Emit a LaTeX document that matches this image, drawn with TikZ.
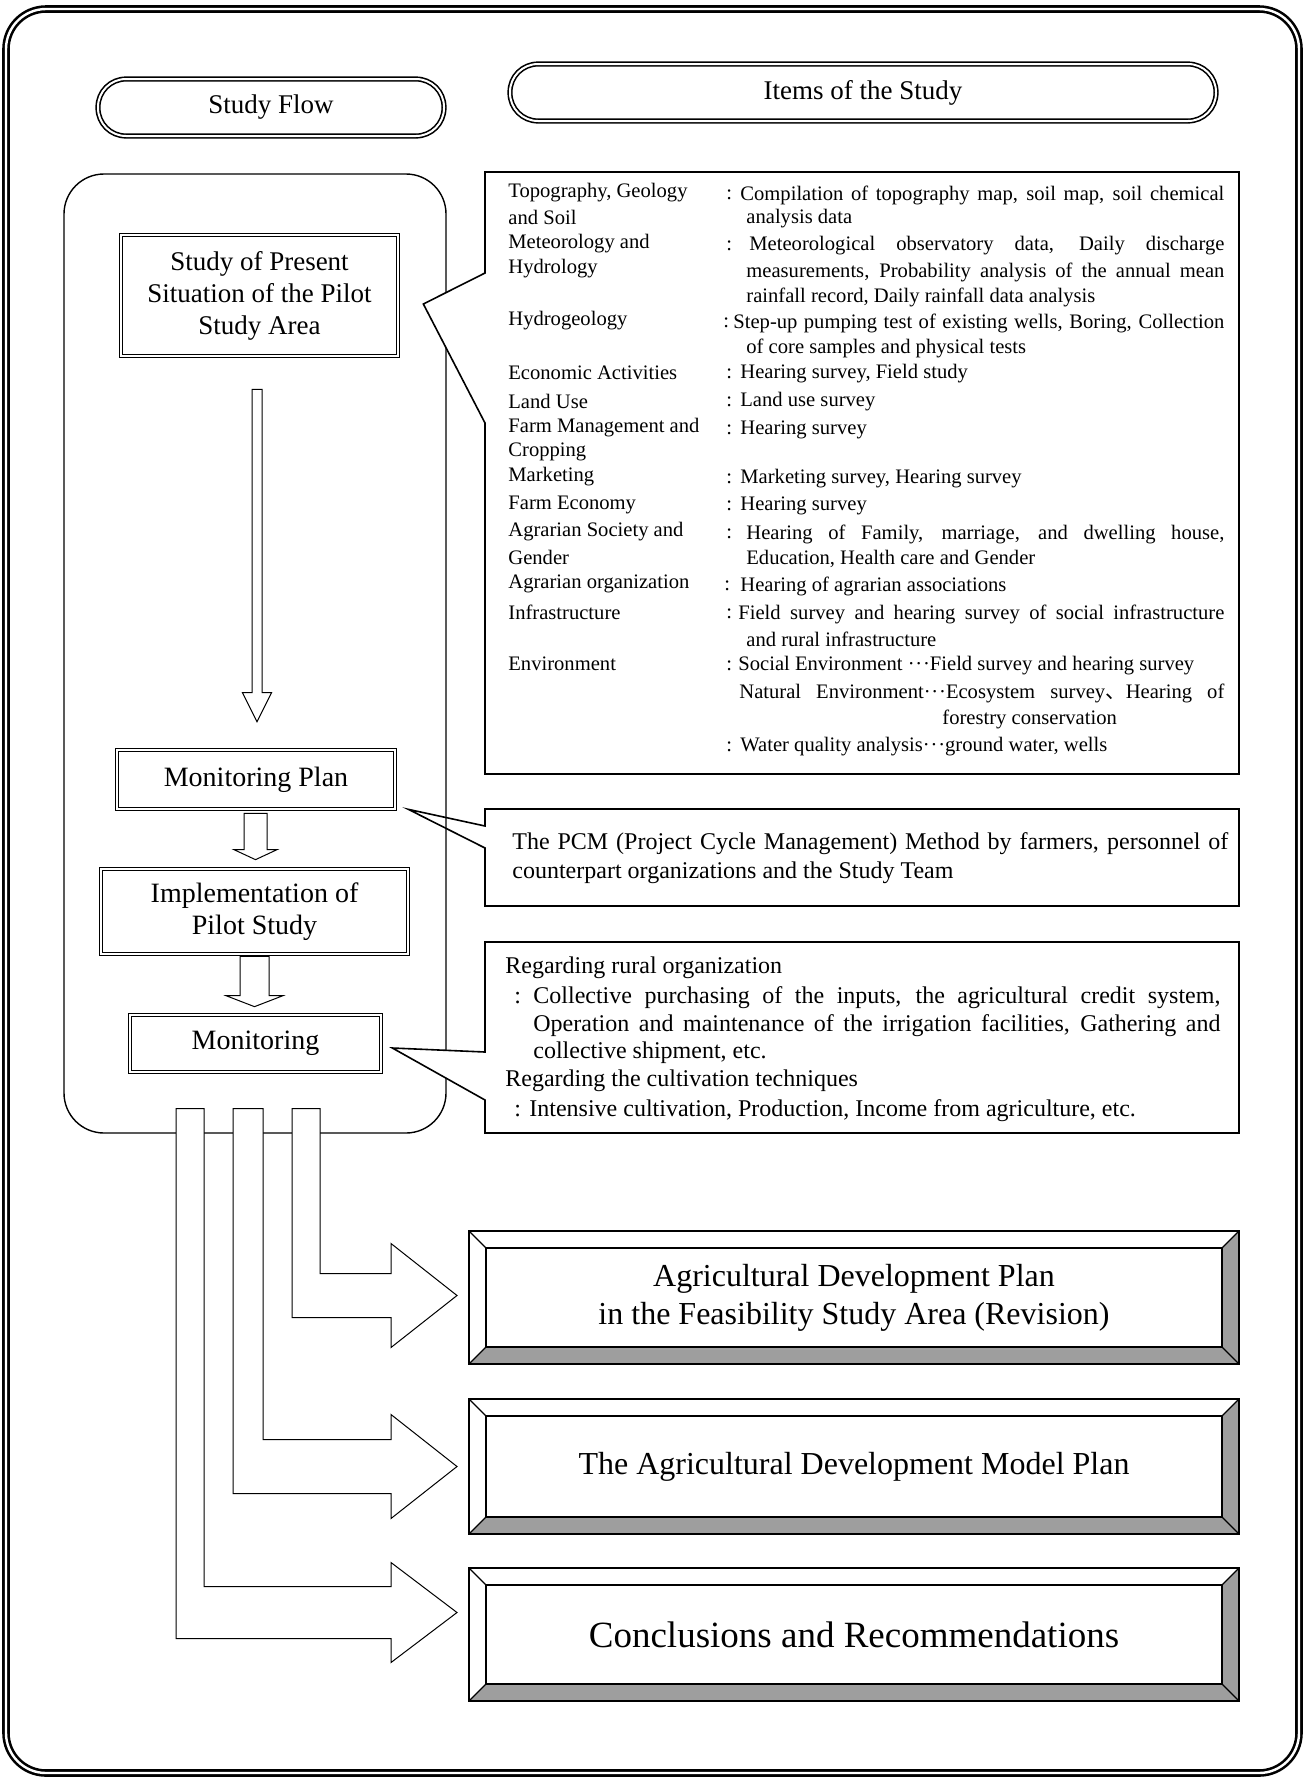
\documentclass[tikz,border=0pt]{standalone}
\usepackage{fontspec}
\setmainfont{Liberation Serif}
\newfontfamily\cjk{Noto Sans CJK JP}
\usetikzlibrary{calc}

\newcommand{\dotsj}{\textperiodcentered\kern0.4pt\textperiodcentered\kern0.4pt\textperiodcentered}
\newcommand{\jcomma}{{\cjk 、}}

\tikzset{
  frameline/.style={draw, double, line width=1.3pt, double distance=1.2pt, rounded corners=20pt},
  headoval/.style={draw, double, line width=0.8pt, double distance=1pt, rounded corners=14pt, minimum height=28.5pt, font=\fontsize{13.5}{16}\selectfont},
  flowbox/.style={draw, double, line width=0.35pt, double distance=1.3pt, align=center, inner sep=0pt},
  hollow/.style={draw, fill=white, line width=0.5pt},
  calloutline/.style={line width=0.8pt, line join=miter},
  holder/.style={inner sep=0pt, outer sep=0pt},
  itemtext/.style={anchor=west, inner sep=0pt, font=\fontsize{10.3}{12}\selectfont},
  notetext/.style={anchor=west, inner sep=0pt, font=\fontsize{12}{14.5}\selectfont},
  bevelshade/.style={fill=black!38},
  plantext/.style={holder, align=center, minimum width=385pt},
}

% hollow block arrow pointing down: start, tip, shaft half, head half, head length
\newcommand{\hollowdown}[5]{%
  \draw[hollow] let \p1=(#1), \p2=(#2) in
    (\x2-#3,\y1) -- (\x2-#3,\y2+#5) -- (\x2-#4,\y2+#5) -- (\p2) --
    (\x2+#4,\y2+#5) -- (\x2+#3,\y2+#5) -- (\x2+#3,\y1) -- cycle;}

% hollow elbow arrow from the flow area: left x, right x (px), tip, shaft half, head half
\newcommand{\elbowarrow}[5]{%
  \draw[hollow] let \p1=(#3), \p2=(flowarea.south) in
    (#1*0.5pt,\y2+12.5pt) -- (#2*0.5pt,\y2+12.5pt) -- (#2*0.5pt,\y1+#4) --
    (\x1-33pt,\y1+#4) -- (\x1-33pt,\y1+#5) -- (\p1) -- (\x1-33pt,\y1-#5) --
    (\x1-33pt,\y1-#4) -- (#1*0.5pt,\y1-#4) -- cycle;}

% raised frame with shaded lower and right bevels
\newcommand{\bevelframe}[1]{%
  \fill[bevelshade] (#1.south west) -- (#1.south east) -- (#1.north east) --
    ($(#1.north east)+(-17,17)$) -- ($(#1.south east)+(-17,-17)$) --
    ($(#1.south west)+(17,-17)$) -- cycle;
  \draw[line width=0.6pt] ($(#1.south west)+(17,-17)$) rectangle ($(#1.north east)+(-17,17)$);
  \foreach \corner/\dx/\dy in {south west/17/-17, south east/-17/-17, north east/-17/17, north west/17/17}
    \draw[line width=0.6pt] (#1.\corner) -- ++(\dx,\dy);
  \draw[line width=1pt] (#1.south west) rectangle (#1.north east);}

\begin{document}
\begin{tikzpicture}[x=0.5pt, y=-0.5pt]
	\useasboundingbox (0,0) rectangle (1305,1779);
	\draw[frameline] (6,9) rectangle (1299,1773);

	% headings
	\node[headoval, minimum width=173pt] (flowhead) at (271,107.5) {Study Flow};
	\node[headoval, minimum width=353pt] (itemshead) at (863,92.5) {Items of the Study};

	% study flow area
	\node[draw, line width=0.7pt, rounded corners=20pt, minimum width=191pt, minimum height=479.5pt] (flowarea) at (255,653.5) {};

	% results
	\node[plantext, minimum height=66.5pt, font=\fontsize{16}{19}\selectfont] (planA) at (854,1297.5) {Agricultural Development Plan\\in the Feasibility Study Area (Revision)};
	\node[plantext, minimum height=67.5pt, font=\fontsize{16}{19}\selectfont] (planB) at (854,1466.5) {The Agricultural Development Model Plan};
	\node[plantext, minimum height=66.5pt, font=\fontsize{18.5}{22}\selectfont] (planC) at (854,1634.5) {Conclusions and Recommendations};
	\bevelframe{planA}
	\bevelframe{planB}
	\bevelframe{planC}

	\coordinate (eAtip) at ($(planA.west)+(-12,-2)$);
	\coordinate (eBtip) at ($(planB.west)+(-12,0)$);
	\coordinate (eCtip) at ($(planC.west)+(-12,-22)$);
	\elbowarrow{292}{320}{eAtip}{11pt}{26pt}
	\elbowarrow{233}{263}{eBtip}{13.5pt}{26pt}
	\elbowarrow{176}{204}{eCtip}{13pt}{25pt}

	% flow steps
	\node[flowbox, minimum width=138.5pt, minimum height=60.5pt, font=\fontsize{13.5}{16}\selectfont] (present) at (259.5,295.5) {Study of Present\\Situation of the Pilot\\Study Area};
	\node[flowbox, minimum width=139pt, minimum height=29.5pt, font=\fontsize{14}{16}\selectfont] (mplan) at (256,779.5) {Monitoring Plan};
	\node[flowbox, minimum width=153.5pt, minimum height=42.5pt, font=\fontsize{14}{16}\selectfont] (impl) at (254.5,911.5) {Implementation of\\Pilot Study};
	\node[flowbox, minimum width=125.5pt, minimum height=28.5pt, font=\fontsize{14}{16}\selectfont] (mon) at (255.5,1043.5) {Monitoring};

	\coordinate (d1top) at ($(present.south)+(-2.5,33)$);
	\coordinate (d1tip) at ($(mplan.north)+(1,-28)$);
	\coordinate (d2top) at ($(mplan.south)+(-0.5,4)$);
	\coordinate (d2tip) at ($(impl.north)+(1,-9)$);
	\coordinate (d3top) at ($(impl.south)+(0,2)$);
	\coordinate (d3tip) at ($(mon.north)+(-1,-8)$);
	\hollowdown{d1top}{d1tip}{2.5pt}{7.25pt}{14.5pt}
	\hollowdown{d2top}{d2tip}{5.75pt}{10.75pt}{5pt}
	\hollowdown{d3top}{d3tip}{7.25pt}{14.25pt}{5.5pt}

	% item boxes with callouts
	\node[holder, minimum width=377pt, minimum height=301pt] (items) at (862,473) {};
	\node[holder, minimum width=377pt, minimum height=48.5pt] (pcm) at (862,857.5) {};
	\node[holder, minimum width=377pt, minimum height=95.5pt] (rural) at (862,1037.5) {};
	\coordinate (c1tip) at ($(present.east)+(25,8.5)$);
	\coordinate (c2tip) at ($(mplan.south east)+(13,0)$);
	\coordinate (c3tip) at ($(mon.east)+(11,4.5)$);
	\draw[calloutline, fill=white] (items.north west) -- (items.north east) -- (items.south east) -- (items.south west)
		-- ($(items.north west)+(0,251)$) -- (c1tip) -- ($(items.north west)+(0,101)$) -- cycle;
	\draw[calloutline] (pcm.north west) -- (pcm.north east) -- (pcm.south east) -- (pcm.south west)
		-- ($(pcm.north west)+(0,39)$) -- (c2tip) -- ($(pcm.north west)+(0,17)$) -- cycle;
	\draw[calloutline, fill=white] (rural.north west) -- (rural.north east) -- (rural.south east) -- (rural.south west)
		-- ($(rural.north west)+(0,158)$) -- (c3tip) -- ($(rural.north west)+(0,110)$) -- cycle;

	% items of the study
	\foreach \ly/\txt [count=\i] in {193/{Topography, Geology}, 217/{and Soil}, 244/{Meteorology and}, 269/{Hydrology},
		321/{Hydrogeology}, 373/{Economic Activities}, 401/{Land Use}, 428/{Farm Management and}, 452/{Cropping},
		477/{Marketing}, 505/{Farm Economy}, 532/{Agrarian Society and}, 557/{Gender}, 584/{Agrarian organization},
		612/{Infrastructure}, 664/{Environment}}
		\node[itemtext] (label\i) at (508,\ly) {\txt};
	\foreach \lx/\ly [count=\i] in {726/195, 726/246, 723/323, 726/374, 726/402, 726/430, 726/479, 726/506,
		726/534, 724/586, 726/614, 726/666, 726/747}
		\node[itemtext] (colon\i) at (\lx,\ly) {:};
	\foreach \lx/\ly/\txt [count=\i] in {740/195/{Compilation of topography map, soil map, soil chemical},
		749/246/{Meteorological observatory data, Daily discharge},
		746/272/{measurements, Probability analysis of the annual mean},
		733/323/{Step-up pumping test of existing wells, Boring, Collection},
		746/534/{Hearing of Family, marriage, and dwelling house,},
		738/614/{Field survey and hearing survey of social infrastructure},
		739/693/{Natural Environment\dotsj Ecosystem survey\jcomma Hearing of}}
		{\pgfmathsetlengthmacro\linew{(1224-\lx)*0.5pt}
		 \node[itemtext] (wide\i) at (\lx,\ly) {\makebox[\linew][s]{\txt}};}
	\foreach \lx/\ly/\txt [count=\i] in {746/219/{analysis data}, 746/297/{rainfall record, Daily rainfall data analysis},
		746/348/{of core samples and physical tests}, 740/374/{Hearing survey, Field study}, 740/402/{Land use survey},
		740/430/{Hearing survey}, 740/479/{Marketing survey, Hearing survey}, 740/506/{Hearing survey},
		746/559/{Education, Health care and Gender}, 740/586/{Hearing of agrarian associations},
		746/639/{and rural infrastructure}, 738/666/{Social Environment \dotsj Field survey and hearing survey},
		942/719/{forestry conservation}, 740/747/{Water quality analysis\dotsj ground water, wells}}
		\node[itemtext] (desc\i) at (\lx,\ly) {\txt};

	% PCM note
	\node[notetext] (pcm1) at (512,844) {\makebox[358pt][s]{The PCM (Project Cycle Management) Method by farmers, personnel of}};
	\node[notetext] (pcm2) at (512,873) {counterpart organizations and the Study Team};

	% monitoring note
	\node[notetext] (rural1) at (505,968) {Regarding rural organization};
	\node[notetext] (rural2) at (514,998) {:};
	\node[notetext] (rural3) at (533,998) {\makebox[343.5pt][s]{Collective purchasing of the inputs, the agricultural credit system,}};
	\node[notetext] (rural4) at (533,1026) {\makebox[343.5pt][s]{Operation and maintenance of the irrigation facilities, Gathering and}};
	\node[notetext] (rural5) at (533,1053) {collective shipment, etc.};
	\node[notetext] (rural6) at (505,1081) {Regarding the cultivation techniques};
	\node[notetext] (rural7) at (514,1111) {:};
	\node[notetext] (rural8) at (529,1111) {Intensive cultivation, Production, Income from agriculture, etc.};
\end{tikzpicture}
\end{document}
